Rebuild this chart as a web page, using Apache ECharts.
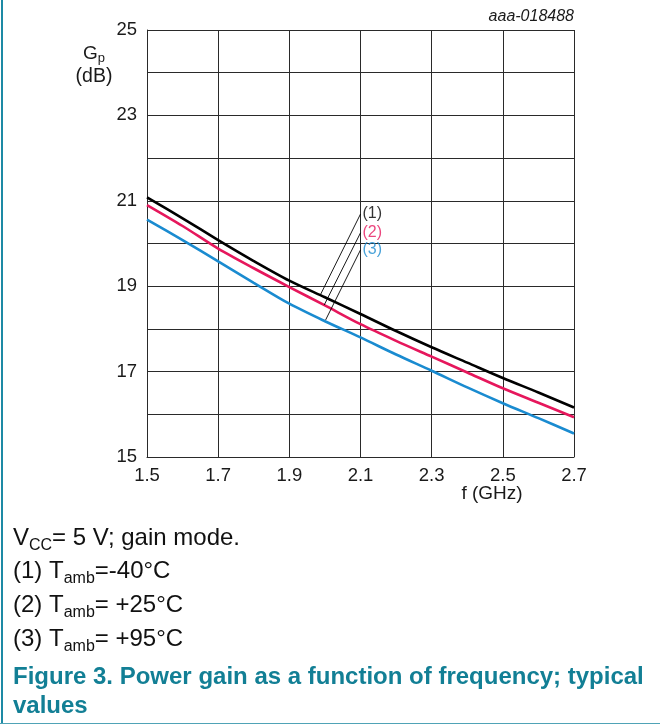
<!DOCTYPE html>
<html><head><meta charset="utf-8">
<script src="https://cdn.jsdelivr.net/npm/echarts@6/dist/echarts.min.js"></script>
<style>html,body{margin:0;padding:0;background:#fff}#c{width:660px;height:726px}</style>
</head><body><div id="c"></div>
<script>
// Frequency (GHz)
const freq = [1.5, 1.6, 1.7, 1.8, 1.9, 2.0, 2.1, 2.2, 2.3, 2.4, 2.5, 2.6, 2.7];
// Power gain (dB) for the three ambient temperatures
const gainM40 = [21.08, 20.59, 20.08, 19.59, 19.13, 18.74, 18.35, 17.95, 17.57, 17.21, 16.85, 16.51, 16.16];
const gainP25 = [20.90, 20.41, 19.88, 19.42, 18.98, 18.55, 18.11, 17.72, 17.35, 16.98, 16.61, 16.27, 15.93];
const gainP95 = [20.56, 20.08, 19.58, 19.08, 18.59, 18.18, 17.80, 17.40, 17.02, 16.63, 16.26, 15.91, 15.55];
// Tick labels
const xTickLabels = [1.5, 1.7, 1.9, 2.1, 2.3, 2.5, 2.7];
const yTickLabels = [15, 17, 19, 21, 23, 25];
// Curve annotations (label text, leader line start/end in data units)
const curveLabels = ['(1)', '(2)', '(3)'];
const leaderStart = [[2.1, 20.69], [2.1, 20.25], [2.1, 19.85]];
const leaderEnd = [[1.988, 18.81], [1.998, 18.56], [2.002, 18.21]];

const FONT = '"Liberation Sans", Arial, Helvetica, sans-serif';
const colors = ['#000000', '#e6175c', '#1a8bd0'];
const gains = [gainM40, gainP25, gainP95];
const gridColor = '#2a2a2a';

const chart = echarts.init(document.getElementById('c'), null, {renderer: 'canvas'});

const series = [];
gains.forEach((g, i) => {
  series.push({
    type: 'line', xAxisIndex: 0, yAxisIndex: 0,
    data: freq.map((f, k) => [f, g[k]]),
    smooth: 0.3, showSymbol: false, symbol: 'none', silent: true,
    lineStyle: {color: colors[i], width: 2.6}, z: 5 - i
  });
});
leaderStart.forEach((s, i) => {
  series.push({
    type: 'line', xAxisIndex: 0, yAxisIndex: 0,
    data: [s, leaderEnd[i]], showSymbol: false, symbol: 'none', silent: true,
    lineStyle: {color: '#000', width: 0.9}, z: 6
  });
});
series.push({
  type: 'scatter', xAxisIndex: 0, yAxisIndex: 0, symbolSize: 0, silent: true,
  data: leaderStart.map((s, i) => ({value: s, label: {color: colors[i]}, name: curveLabels[i]})),
  label: {show: true, position: 'right', distance: 2, formatter: p => p.name,
    fontFamily: FONT, fontSize: 16}, z: 7
});

const isTick = (arr, v) => arr.some(t => Math.abs(t - v) < 1e-6);

const noteRich = {
  m: {fontSize: 24, fontFamily: FONT, fill: '#111', lineHeight: 31, verticalAlign: 'middle'},
  s: {fontSize: 16, fontFamily: FONT, fill: '#111', lineHeight: 31, verticalAlign: 'bottom'}
};
const noteLines = [
  ['{m|V}{s|CC}{m|= 5 V; gain mode.}', 538],
  ['{m|(1) T}{s|amb}{m|=-40°C}', 571],
  ['{m|(2) T}{s|amb}{m|= +25°C}', 605],
  ['{m|(3) T}{s|amb}{m|= +95°C}', 639]
];

chart.setOption({
  animation: false,
  backgroundColor: '#fff',
  grid: {left: 147, right: 86, top: 30, bottom: 269, containLabel: false},
  xAxis: [{
    type: 'value', min: 1.5, max: 2.7, interval: 0.1,
    axisLine: {show: true, lineStyle: {color: gridColor, width: 1}},
    axisTick: {show: false},
    splitLine: {show: false},
    axisLabel: {fontFamily: FONT, fontSize: 18.5, color: '#1a1a1a', margin: 9,
      showMinLabel: true, showMaxLabel: true,
      formatter: v => isTick(xTickLabels, v) ? v.toFixed(1) : ''}
  }, {
    type: 'value', min: 0, max: 6, interval: 1, position: 'bottom',
    axisLine: {show: false}, axisTick: {show: false}, axisLabel: {show: false},
    splitLine: {show: true, lineStyle: {color: gridColor, width: 1}}
  }],
  yAxis: {
    type: 'value', min: 15, max: 25, interval: 1,
    axisLine: {show: true, lineStyle: {color: gridColor, width: 1}},
    axisTick: {show: false},
    splitLine: {show: true, lineStyle: {color: gridColor, width: 1}},
    axisLabel: {fontFamily: FONT, fontSize: 18.5, color: '#1a1a1a', margin: 10,
      formatter: v => isTick(yTickLabels, v) ? String(v) : ''}
  },
  series: series,
  graphic: [
    {type: 'line', shape: {x1: 2, y1: 0, x2: 2, y2: 724}, style: {stroke: '#1d8aa5', lineWidth: 2}},
    {type: 'line', shape: {x1: 0, y1: 723.5, x2: 660, y2: 723.5}, style: {stroke: '#4fa3b6', lineWidth: 1}},
    {type: 'text', right: 660 - 574, top: 9,
      style: {text: 'aaa-018488', fontFamily: FONT, fontSize: 16, fontStyle: 'italic', fill: '#1a1a1a'}},
    {type: 'text', x: 94, y: 54,
      style: {text: '{m|G}{s|p}', align: 'center', verticalAlign: 'middle', fontFamily: FONT,
        rich: {m: {fontSize: 19, fontFamily: FONT, fill: '#1a1a1a', lineHeight: 22, verticalAlign: 'middle'},
               s: {fontSize: 13, fontFamily: FONT, fill: '#1a1a1a', lineHeight: 22, verticalAlign: 'bottom'}}}},
    {type: 'text', x: 94, y: 77,
      style: {text: '(dB)', align: 'center', verticalAlign: 'middle', fontFamily: FONT, fontSize: 19.5, fill: '#1a1a1a'}},
    {type: 'text', x: 492, y: 494,
      style: {text: 'f (GHz)', align: 'center', verticalAlign: 'middle', fontFamily: FONT, fontSize: 19, fill: '#1a1a1a'}}
  ].concat(noteLines.map(([t, y]) => ({
    type: 'text', x: 13, y: y,
    style: {text: t, verticalAlign: 'middle', rich: noteRich}
  }))).concat([
    {type: 'text', x: 13, y: 677,
      style: {text: 'Figure 3. Power gain as a function of frequency; typical', verticalAlign: 'middle',
        fontFamily: FONT, fontSize: 24, fontWeight: 'bold', fill: '#127f95'}},
    {type: 'text', x: 13, y: 706,
      style: {text: 'values', verticalAlign: 'middle',
        fontFamily: FONT, fontSize: 24, fontWeight: 'bold', fill: '#127f95'}}
  ])
});
</script>
</body></html>
